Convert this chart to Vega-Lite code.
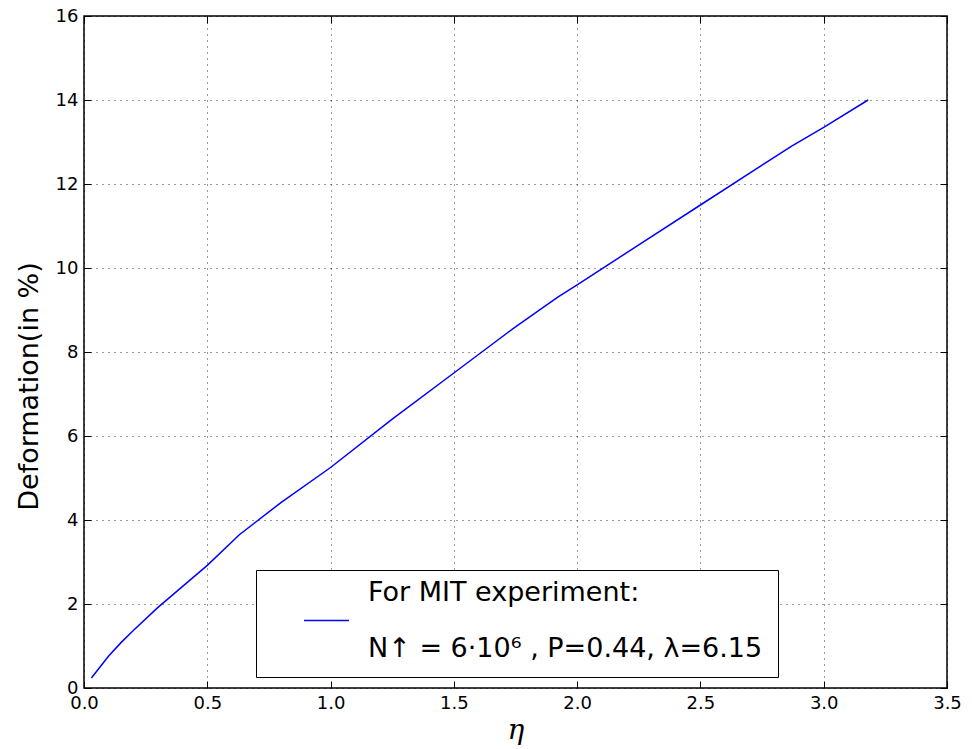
{
  "$schema": "https://vega.github.io/schema/vega-lite/v6.json",
  "width": 863,
  "height": 672,
  "autosize": "none",
  "padding": {"left": 84, "top": 16, "right": 25, "bottom": 61},
  "background": "white",
  "config": {
    "view": {"stroke": "black", "strokeWidth": 1.5},
    "axis": {
      "labelFont": "DejaVu Sans",
      "labelFontSize": 18,
      "labelColor": "black",
      "labelFlush": false,
      "labelOverlap": false,
      "domain": false,
      "tickColor": "black",
      "tickSize": -7,
      "tickWidth": 1,
      "labelPadding": 13,
      "grid": true,
      "gridColor": "black",
      "gridDash": [1, 5],
      "gridWidth": 1,
      "gridOpacity": 0.8,
      "titleColor": "black"
    }
  },
  "data": {
    "values": [
      {"eta": 0.03, "def": 0.24, "s": "MIT"},
      {"eta": 0.065, "def": 0.5, "s": "MIT"},
      {"eta": 0.1, "def": 0.76, "s": "MIT"},
      {"eta": 0.15, "def": 1.08, "s": "MIT"},
      {"eta": 0.2, "def": 1.37, "s": "MIT"},
      {"eta": 0.3, "def": 1.92, "s": "MIT"},
      {"eta": 0.4, "def": 2.42, "s": "MIT"},
      {"eta": 0.5, "def": 2.92, "s": "MIT"},
      {"eta": 0.63, "def": 3.65, "s": "MIT"},
      {"eta": 0.8, "def": 4.42, "s": "MIT"},
      {"eta": 1.0, "def": 5.25, "s": "MIT"},
      {"eta": 1.25, "def": 6.4, "s": "MIT"},
      {"eta": 1.5, "def": 7.5, "s": "MIT"},
      {"eta": 1.75, "def": 8.6, "s": "MIT"},
      {"eta": 1.92, "def": 9.3, "s": "MIT"},
      {"eta": 2.0, "def": 9.6, "s": "MIT"},
      {"eta": 2.25, "def": 10.55, "s": "MIT"},
      {"eta": 2.5, "def": 11.5, "s": "MIT"},
      {"eta": 2.75, "def": 12.45, "s": "MIT"},
      {"eta": 2.87, "def": 12.9, "s": "MIT"},
      {"eta": 3.0, "def": 13.35, "s": "MIT"},
      {"eta": 3.18, "def": 14.0, "s": "MIT"}
    ]
  },
  "layer": [
    {
      "mark": {"type": "line", "strokeWidth": 1.5},
      "encoding": {
        "x": {
          "field": "eta", "type": "quantitative",
          "scale": {"domain": [0, 3.5], "nice": false, "zero": false},
          "axis": {"values": [0, 0.5, 1, 1.5, 2, 2.5, 3, 3.5], "format": ".1f",
                   "title": "η", "titleFont": "DejaVu Serif", "titleFontStyle": "italic",
                   "titleFontWeight": "normal", "titleFontSize": 28, "titlePadding": 4}
        },
        "y": {
          "field": "def", "type": "quantitative",
          "scale": {"domain": [0, 16], "nice": false, "zero": false},
          "axis": {"values": [0, 2, 4, 6, 8, 10, 12, 14, 16], "format": "d",
                   "title": "Deformation(in %)", "titleFont": "DejaVu Sans",
                   "titleFontWeight": "normal", "titleFontSize": 27, "titlePadding": 12,
                   "titleY": 370}
        },
        "color": {
          "field": "s", "type": "nominal",
          "scale": {"range": ["#0000ff"]},
          "legend": {
            "orient": "none", "legendX": 172, "legendY": 554,
            "title": " ", "titleFontSize": 1, "titlePadding": 11,
            "strokeColor": "black", "fillColor": "white", "padding": 15,
            "symbolType": "stroke", "symbolSize": 2025, "symbolStrokeWidth": 1.5,
            "symbolOffset": 32, "labelOffset": 18,
            "labelFont": "DejaVu Sans", "labelFontSize": 27, "labelColor": "black",
            "labelLimit": 700,
            "labelExpr": "['For MIT experiment:', 'N↑ = 6·10⁶ , P=0.44, λ=6.15']",
            "encode": {
              "labels": {"update": {"lineHeight": {"value": 56}, "dy": {"value": -28}}}
            }
          }
        }
      }
    },
    {
      "mark": {"type": "line", "opacity": 0},
      "encoding": {
        "x": {"field": "eta", "type": "quantitative",
              "scale": {"domain": [0, 3.5], "nice": false, "zero": false},
              "axis": {"orient": "top", "labels": false, "grid": false, "title": null,
                       "values": [0, 0.5, 1, 1.5, 2, 2.5, 3, 3.5]}},
        "y": {"field": "def", "type": "quantitative",
              "scale": {"domain": [0, 16], "nice": false, "zero": false},
              "axis": {"orient": "right", "labels": false, "grid": false, "title": null,
                       "values": [0, 2, 4, 6, 8, 10, 12, 14, 16]}}
      }
    }
  ],
  "resolve": {"axis": {"x": "independent", "y": "independent"}}
}
